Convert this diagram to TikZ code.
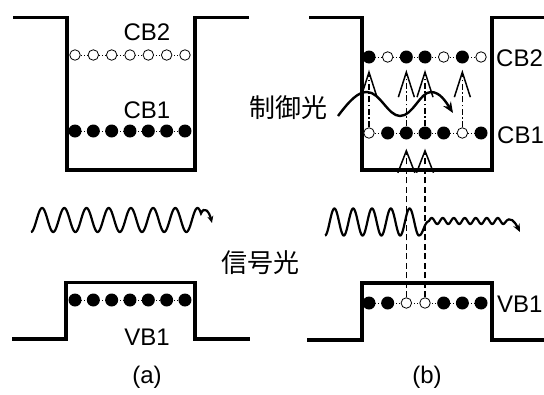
\documentclass[tikz,border=0pt]{standalone}
\usepackage{fontspec}
\setmainfont{Liberation Sans}
\newfontfamily\cjkfont{Noto Sans CJK JP}
\usetikzlibrary{arrows.meta,backgrounds}
\begin{document}
\begin{tikzpicture}[x=1pt,y=-1pt,
  wall/.style={line width=3.2pt},
  lbl/.style={font=\fontsize{24}{26}\selectfont, inner sep=0pt},
  jlbl/.style={font=\cjkfont\fontsize{26}{28}\selectfont, inner sep=0pt},
  fullst/.style={circle, fill=black, minimum size=13pt, inner sep=0pt},
  emptyst/.style={circle, draw=black, fill=white, line width=0.8pt, minimum size=10.5pt, inner sep=0pt,
     path picture={\fill (path picture bounding box.center) ++(-2pt,0pt) circle (0.8pt) ++(4pt,0pt) circle (0.8pt);}},
  levelline/.style={line width=1pt, dash pattern=on 1pt off 2pt},
  wavy/.style={line width=2.2pt},
  exc/.style={line width=1.3pt, dash pattern=on 6pt off 2.5pt on 1.5pt off 2.5pt,
     -{Straight Barb[length=25pt,width=16pt,line width=1.5pt]}},
  sig/.style={line width=1.3pt, dash pattern=on 6pt off 3.5pt,
     -{Straight Barb[length=22pt,width=17pt,line width=1.5pt]}},
]
\useasboundingbox (0,0) rectangle (544,394);

% ---------- panel (a) ----------
\draw[wall] (13,17.5) -- (67,17.5) -- (67,170) -- (195,170) -- (195,17.5) -- (249,17.5);
\draw[wall] (12,339) -- (66,339) -- (66,282.5) -- (195,282.5) -- (195,339) -- (250,339);

\foreach \s [count=\i from 0] in {emptyst,emptyst,emptyst,emptyst,emptyst,emptyst,emptyst}
  \node[\s] (a2-\i) at ({75+\i*18.33},55) {};
\foreach \s [count=\i from 0] in {fullst,fullst,fullst,fullst,fullst,fullst,fullst}
  \node[\s] (a1-\i) at ({75+\i*18.33},131) {};
\foreach \s [count=\i from 0] in {fullst,fullst,fullst,fullst,fullst,fullst,fullst}
  \node[\s] (a0-\i) at ({75+\i*18.33},300) {};

\node[lbl] (acb2) at (147,32.5) {CB2};
\node[lbl] (acb1) at (147,110) {CB1};
\node[lbl] (avb1) at (147,337.5) {VB1};
\node[lbl] (alab) at (147,377) {(a)};

\draw[wavy, -{Stealth[length=7pt,width=6pt]}]
  plot[domain=31:201, samples=260, smooth] (\x,{220+12*cos((\x-31)/22.2*360)})
  .. controls (204,206) and (209,211) .. (212,223);

% ---------- panel (b) ----------
\draw[wall] (309,17.5) -- (362,17.5) -- (362,170) -- (492,170) -- (492,17.5) -- (546,17.5);
\draw[wall] (307,340) -- (362,340) -- (362,283) -- (492,283) -- (492,340) -- (546,340);

\foreach \s [count=\i from 0] in {fullst,emptyst,fullst,fullst,emptyst,fullst,emptyst}
  \node[\s] (b2-\i) at ({369+\i*18.67},57) {};
\foreach \s [count=\i from 0] in {emptyst,fullst,fullst,fullst,fullst,emptyst,fullst}
  \node[\s] (b1-\i) at ({369+\i*18.67},133) {};
\foreach \s [count=\i from 0] in {fullst,fullst,emptyst,emptyst,fullst,fullst,fullst}
  \node[\s] (b0-\i) at ({369+\i*18.67},303) {};

\node[lbl, anchor=west] (bcb2) at (496,58) {CB2};
\node[lbl, anchor=west] (bcb1) at (497,135) {CB1};
\node[lbl, anchor=west] (bvb1) at (497,304) {VB1};
\node[lbl] (blab) at (427,377) {(b)};

\node[jlbl] (ctrl) at (288,108) {制御光};
\node[jlbl] (sigl) at (260,263) {信号光};

% transitions
\foreach \i in {0,2,3,5}
  \draw[exc, shorten >=6pt] (b1-\i.north) -- (b2-\i.south);
\foreach \i in {2,3}
  \draw[sig, shorten >=9pt] (b0-\i.north) -- (b1-\i.south);

% signal light in (b)
\draw[wavy, -{Stealth[length=8pt,width=7pt]}]
  plot[domain=325:419, samples=200, smooth] (\x,{222+13.5*cos((\x-325)/18.8*360)})
  .. controls (423,235.5) and (424,222) .. (429,221)
  -- plot[domain=429:505, samples=120, smooth] (\x,{221-3*sin((\x-429)/11*360)})
  .. controls (510,215) and (515,222) .. (520,232);

% control light
\draw[line width=2.4pt, -{Stealth[length=11pt,width=9pt]}]
  (338,116) .. controls (350,100) and (358,92) .. (367,92)
  .. controls (380,92) and (388,116) .. (400,116)
  .. controls (413,116) and (420,92) .. (431,92)
  .. controls (440,92) and (446,102) .. (453,113);

% dotted level lines behind the states
\begin{pgfonlayer}{background}
  \draw[levelline] (a2-0.center) -- (a2-6.center);
  \draw[levelline] (a1-0.center) -- (a1-6.center);
  \draw[levelline] (a0-0.center) -- (a0-6.center);
  \draw[levelline] (b2-0.center) -- (b2-6.center);
  \draw[levelline] (b1-0.center) -- (b1-6.center);
  \draw[levelline] (b0-0.center) -- (b0-6.center);
\end{pgfonlayer}
\end{tikzpicture}
\end{document}
